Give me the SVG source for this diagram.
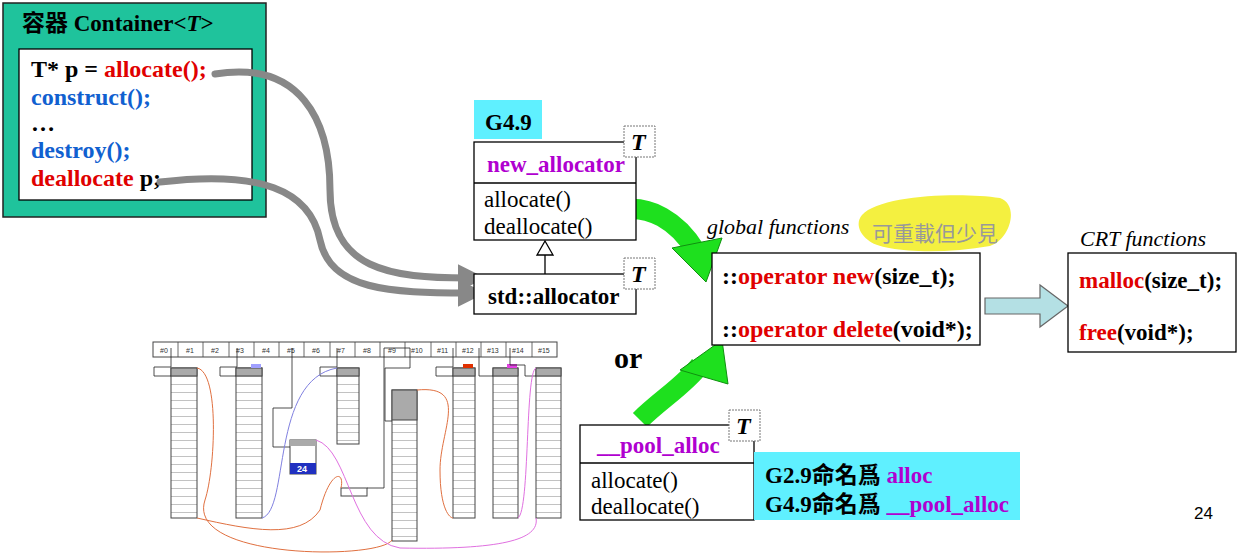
<svg xmlns="http://www.w3.org/2000/svg" width="1238" height="556" viewBox="0 0 1238 556">
<style>
.t{font-family:"Liberation Serif",serif;font-size:23px;font-weight:bold;fill:#000}
.n{font-family:"Liberation Serif",serif;font-size:23px;fill:#000}
.r{fill:#e00000}.b{fill:#1060d0}.p{fill:#b000d0}
.box{fill:#fff;stroke:#000;stroke-width:1.3}
.tb{fill:#fff;stroke:#777;stroke-width:1;stroke-dasharray:2 1}
.ti{font-family:"Liberation Serif",serif;font-size:24px;font-weight:bold;font-style:italic}
.lst{fill:url(#rows);stroke:#444;stroke-width:1}
.hdr{font-family:"Liberation Sans",sans-serif;font-size:7px;fill:#333}
.cj{font-family:"Liberation Serif","Noto Sans CJK TC",serif}
.s24{font-size:24px}
.s22{font-size:22px}
</style>
<defs>
<pattern id="rows" width="30" height="8" patternUnits="userSpaceOnUse"><rect width="30" height="8" fill="#fff"/><line x1="0" y1="0" x2="30" y2="0" stroke="#666" stroke-width="0.8"/></pattern>
<marker id="ga" markerWidth="4" markerHeight="4" refX="1.5" refY="2" orient="auto"><path d="M0,0 L4,2 L0,4 z" fill="#888"/></marker>
</defs>
<rect width="1238" height="556" fill="#fff"/>
<g id="container">
<rect x="3" y="3" width="263" height="214" fill="#1fc39c" stroke="#222" stroke-width="1.5"/>
<text x="22" y="31" class="t cj">容器 Container&lt;<tspan font-style="italic">T</tspan>&gt;</text>
<rect x="19" y="49" width="233" height="151" class="box"/>
<text x="31" y="77" class="t s24">T* p = <tspan class="r">allocate();</tspan></text>
<text x="31" y="105" class="t b s24">construct();</text>
<text x="31" y="131" class="t s24">…</text>
<text x="31" y="158" class="t b s24">destroy();</text>
<text x="31" y="186" class="t s24"><tspan class="r">deallocate</tspan> p;</text>
</g>
<g id="connectors">
<path d="M215,74 C300,60 330,120 330,190 C330,270 390,278 468,278" fill="none" stroke="#888" stroke-width="7" stroke-linecap="round" marker-end="url(#ga)"/>
<path d="M160,182 C260,170 310,190 320,240 C330,290 390,293 468,293" fill="none" stroke="#888" stroke-width="7" stroke-linecap="round" marker-end="url(#ga)"/>
<path d="M545,274 L545,255" stroke="#000" stroke-width="1.3"/>
<path d="M537,255 L553,255 L545,241 z" fill="#fff" stroke="#000" stroke-width="1.3"/>
<path d="M612,212 C650,200 680,225 695,250" fill="none" stroke="#1ee01e" stroke-width="20"/>
<path d="M672,248 L722,238 L706,282 z" fill="#1ee01e" stroke="#109010" stroke-width="1"/>
<path d="M640,420 C660,400 685,385 700,365" fill="none" stroke="#1ee01e" stroke-width="20"/>
<path d="M680,370 L722,340 L728,384 z" fill="#1ee01e" stroke="#109010" stroke-width="1"/>
<path d="M985,298 L1040,298 L1040,285 L1068,306 L1040,327 L1040,314 L985,314 z" fill="#b4e0e4" stroke="#666" stroke-width="1.2"/>
</g>
<g id="g49"><rect x="474" y="100" width="68" height="39" fill="#5ff0ff"/><text x="485" y="130" class="t">G4.9</text></g>
<g id="new_allocator">
<rect x="474" y="142" width="162" height="98" class="box"/>
<line x1="474" y1="183" x2="636" y2="183" stroke="#000" stroke-width="1.3"/>
<text x="487" y="172" class="t p">new_allocator</text>
<text x="484" y="207" class="n">allocate()</text>
<text x="484" y="234" class="n">deallocate()</text>
<rect x="624" y="126" width="31" height="31" class="tb"/><text x="631" y="150" class="ti">T</text>
</g>
<g id="std_allocator">
<rect x="474" y="274" width="162" height="40" class="box"/>
<text x="488" y="304" class="t">std::allocator</text>
<rect x="624" y="258" width="31" height="31" class="tb"/><text x="631" y="282" class="ti">T</text>
</g>
<g id="global">
<path d="M862,215 C880,195 960,192 1000,198 C1020,205 1010,240 990,246 C940,255 880,252 868,240 C858,232 856,222 862,215 z" fill="#f4f040"/>
<text x="707" y="234" class="n s22" font-style="italic">global functions</text>
<text x="872" y="241" font-family="'Noto Sans CJK TC',sans-serif" font-size="21" fill="#999">可重載但少見</text>
<rect x="712" y="253" width="268" height="92" class="box"/>
<text x="722" y="284" class="t s24">::<tspan class="r">operator new</tspan>(size_t);</text>
<text x="722" y="337" class="t s24">::<tspan class="r">operator delete</tspan>(void*);</text>
</g>
<g id="crt">
<text x="1080" y="246" class="n s22" font-style="italic">CRT functions</text>
<rect x="1068" y="253" width="168" height="99" class="box"/>
<text x="1079" y="288" class="t"><tspan class="r">malloc</tspan>(size_t);</text>
<text x="1079" y="340" class="t"><tspan class="r">free</tspan>(void*);</text>
</g>
<text x="614" y="368" class="t" style="font-size:30px">or</text>
<g id="pool_alloc">
<rect x="580" y="425" width="174" height="95" class="box"/>
<line x1="580" y1="463" x2="754" y2="463" stroke="#000" stroke-width="1.3"/>
<text x="597" y="453" class="t p">__pool_alloc</text>
<text x="591" y="488" class="n">allocate()</text>
<text x="591" y="514" class="n">deallocate()</text>
<rect x="729" y="410" width="31" height="31" class="tb"/><text x="736" y="434" class="ti">T</text>
</g>
<g id="note">
<rect x="754" y="452" width="266" height="68" fill="#5ff0ff"/>
<text x="765" y="483" class="t cj">G2.9命名爲 <tspan class="p">alloc</tspan></text>
<text x="765" y="512" class="t cj">G4.9命名爲 <tspan class="p">__pool_alloc</tspan></text>
</g>
<text x="1194" y="519" font-family="'Liberation Sans',sans-serif" font-size="17">24</text>
<g id="pool_picture">
<rect x="153" y="342" width="404" height="15" fill="#fff" stroke="#444"/>
<g stroke="#444" stroke-width="0.8">
<line x1="178" y1="342" x2="178" y2="357"/><line x1="203" y1="342" x2="203" y2="357"/><line x1="229" y1="342" x2="229" y2="357"/><line x1="254" y1="342" x2="254" y2="357"/><line x1="279" y1="342" x2="279" y2="357"/><line x1="304" y1="342" x2="304" y2="357"/><line x1="330" y1="342" x2="330" y2="357"/><line x1="355" y1="342" x2="355" y2="357"/><line x1="380" y1="342" x2="380" y2="357"/><line x1="405" y1="342" x2="405" y2="357"/><line x1="431" y1="342" x2="431" y2="357"/><line x1="456" y1="342" x2="456" y2="357"/><line x1="481" y1="342" x2="481" y2="357"/><line x1="506" y1="342" x2="506" y2="357"/><line x1="532" y1="342" x2="532" y2="357"/>
</g>
<g class="hdr">
<text x="160" y="353">#0</text><text x="186" y="353">#1</text><text x="211" y="353">#2</text><text x="236" y="353">#3</text><text x="262" y="353">#4</text><text x="287" y="353">#5</text><text x="312" y="353">#6</text><text x="337" y="353">#7</text><text x="363" y="353">#8</text><text x="388" y="353">#9</text><text x="411" y="353">#10</text><text x="437" y="353">#11</text><text x="462" y="353">#12</text><text x="487" y="353">#13</text><text x="512" y="353">#14</text><text x="538" y="353">#15</text>
</g>
<rect x="171" y="368" width="26" height="150" class="lst"/><rect x="171" y="368" width="26" height="8" fill="#aaa" stroke="#444"/>
<rect x="236" y="368" width="26" height="150" class="lst"/><rect x="236" y="368" width="26" height="8" fill="#aaa" stroke="#444"/>
<rect x="337" y="368" width="22" height="76" class="lst"/><rect x="337" y="368" width="22" height="8" fill="#aaa" stroke="#444"/>
<rect x="392" y="390" width="25" height="151" class="lst"/><rect x="392" y="390" width="25" height="30" fill="#aaa" stroke="#444"/>
<rect x="453" y="368" width="22" height="150" class="lst"/><rect x="453" y="368" width="22" height="8" fill="#aaa" stroke="#444"/>
<rect x="493" y="368" width="25" height="150" class="lst"/><rect x="493" y="368" width="25" height="8" fill="#aaa" stroke="#444"/>
<rect x="536" y="368" width="25" height="150" class="lst"/><rect x="536" y="368" width="25" height="8" fill="#aaa" stroke="#444"/>
<rect x="251" y="364" width="10" height="4" fill="#a0a0ff"/><rect x="463" y="364" width="10" height="4" fill="#e03000"/><rect x="507" y="364" width="10" height="4" fill="#e040e0"/>
<rect x="290" y="440" width="26" height="34" fill="#fff" stroke="#444"/><rect x="290" y="440" width="26" height="6" fill="#aaa"/>
<rect x="290" y="463" width="26" height="11" fill="#2030c0"/><text x="297" y="472" font-family="'Liberation Sans',sans-serif" font-size="9" font-weight="bold" fill="#fff">24</text>
<rect x="341" y="488" width="26" height="8" fill="#fff" stroke="#444"/>
<g fill="none" stroke="#222" stroke-width="0.8">
<path d="M171,348 V367 H154 V376 H171"/><path d="M237,348 V367 H220 V376 H236"/><path d="M292,348 V408 H273 V447 H290"/><path d="M337,348 V367 H320 V376 H337"/><path d="M410,348 H384 V420 V488 H367"/><path d="M410,348 V368 H385 V421 H392"/><path d="M453,348 V367 H436 V376 H453"/><path d="M479,348 V376 H493"/><path d="M510,348 V365 H525 V376 H536"/>
</g>
<g fill="none" stroke-width="1">
<path d="M197,368 C220,372 215,470 205,500 C185,560 380,560 392,540" stroke="#e07040"/>
<path d="M197,518 C250,530 300,540 320,510 C330,470 345,470 341,488" stroke="#e07040"/>
<path d="M417,390 C470,385 440,430 440,470 C440,510 450,518 453,518" stroke="#e07040"/>
<path d="M262,518 C290,510 270,380 337,368" stroke="#8080e0"/>
<path d="M316,440 C350,450 350,540 400,548 C500,550 540,540 536,518" stroke="#e070e0"/>
<path d="M518,518 C530,510 525,372 536,368" stroke="#e070e0"/>
</g>
</g>
</svg>
